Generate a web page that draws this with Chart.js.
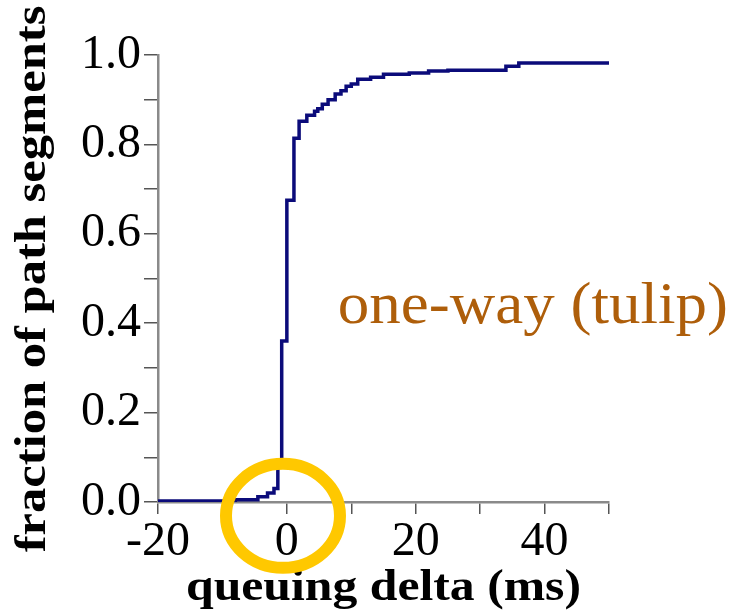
<!DOCTYPE html>
<html>
<head>
<meta charset="utf-8">
<script src="https://cdn.jsdelivr.net/npm/chart.js@4.4.1/dist/chart.umd.min.js"></script>
<style>
html,body{margin:0;padding:0;background:#fff;}
#wrap{width:736px;height:615px;}
</style>
</head>
<body>
<div id="wrap"><canvas id="c" width="736" height="615"></canvas></div>
<script>
// CDF data (queuing delta in ms, fraction of path segments)
const delayMs = [-20, -8, -4.5, -3, -2, -1.4, -0.8, 0, 1.1, 1.9, 3.1, 4.3, 4.8, 5.5, 6.4, 7.5, 8.4, 9.2, 10, 11, 13, 15, 19, 22, 25, 34, 36, 50];
const fraction = [0, 0.002, 0.005, 0.012, 0.02, 0.03, 0.085, 0.36, 0.675, 0.814, 0.852, 0.865, 0.874, 0.88, 0.89, 0.9, 0.913, 0.92, 0.93, 0.935, 0.946, 0.95, 0.957, 0.96, 0.964, 0.966, 0.975, 0.982];
const xLabelled = [-20, 0, 20, 40];
const yLabelled = [0, 0.2, 0.4, 0.6, 0.8, 1.0];
const xTitle = 'queuing delta (ms)';
const yTitle = 'fraction of path segments';
const annotationText = 'one-way (tulip)';
const annotationAt = {x: 7.9, y: 0.401};
const highlightAt = {x: -0.6, y: -0.031};

const SERIF = '"Liberation Serif", "Times New Roman", serif';
const points = delayMs.map((x, i) => ({x: x, y: fraction[i]}));

const overlay = {
  id: 'overlay',
  afterDraw(chart) {
    const {ctx, scales, chartArea} = chart;
    ctx.save();
    // axis titles (slightly widened serif bold, as in the original)
    ctx.fillStyle = '#000';
    ctx.font = 'bold 44px ' + SERIF;
    ctx.textAlign = 'center';
    ctx.textBaseline = 'alphabetic';
    ctx.save();
    ctx.translate((chartArea.left + chartArea.right) / 2, 600);
    ctx.scale(1.13, 1);
    ctx.fillText(xTitle, 0, 0);
    ctx.restore();
    ctx.save();
    ctx.translate(45, 279);
    ctx.rotate(-Math.PI / 2);
    ctx.scale(1.15, 1);
    ctx.fillText(yTitle, 0, 0);
    ctx.restore();
    // annotation text
    ctx.save();
    ctx.fillStyle = '#AE5E0A';
    ctx.font = '60px ' + SERIF;
    ctx.textAlign = 'left';
    ctx.translate(scales.x.getPixelForValue(annotationAt.x), scales.y.getPixelForValue(annotationAt.y));
    ctx.scale(1.05, 1);
    ctx.fillText(annotationText, 0, 0);
    ctx.restore();
    // highlight circle
    ctx.strokeStyle = '#FFC800';
    ctx.lineWidth = 12;
    ctx.beginPath();
    ctx.ellipse(scales.x.getPixelForValue(highlightAt.x), scales.y.getPixelForValue(highlightAt.y), 57, 52, 0, 0, Math.PI * 2);
    ctx.stroke();
    ctx.restore();
  }
};

new Chart(document.getElementById('c'), {
  type: 'line',
  data: {
    datasets: [{
      data: points,
      borderColor: '#0B0B7A',
      borderWidth: 3.5,
      pointRadius: 0,
      stepped: 'after',
      fill: false
    }]
  },
  options: {
    responsive: false,
    animation: false,
    devicePixelRatio: 1,
    layout: {padding: {left: 0, right: 127, top: 55, bottom: 0}},
    plugins: {legend: {display: false}, tooltip: {enabled: false}},
    scales: {
      x: {
        type: 'linear',
        min: -20, max: 50,
        afterFit(s) { s.height = 113; },
        afterBuildTicks(s) { s.ticks = []; for (let v = -20; v <= 50; v += 10) s.ticks.push({value: v}); },
        border: {color: '#8a8a8a', width: 2.5},
        grid: {drawOnChartArea: false, drawTicks: true, tickLength: 12, color: '#555', lineWidth: 1.5},
        ticks: {
          color: '#000',
          padding: 0,
          maxRotation: 0,
          autoSkip: false,
          font: {family: SERIF, size: 48},
          callback: v => xLabelled.includes(v) ? String(v) : ''
        },
        title: {display: false}
      },
      y: {
        type: 'linear',
        min: 0, max: 1,
        afterFit(s) { s.width = 158; },
        afterBuildTicks(s) { s.ticks = []; for (let i = 0; i <= 10; i++) s.ticks.push({value: i / 10}); },
        border: {color: '#8a8a8a', width: 2.5},
        grid: {drawOnChartArea: false, drawTicks: true, tickLength: 14, color: '#555', lineWidth: 1.5},
        ticks: {
          color: '#000',
          padding: 3,
          autoSkip: false,
          font: {family: SERIF, size: 48},
          callback: v => yLabelled.some(t => Math.abs(t - v) < 1e-9) ? v.toFixed(1) : ''
        },
        title: {display: false}
      }
    }
  },
  plugins: [overlay]
});
</script>
</body>
</html>
